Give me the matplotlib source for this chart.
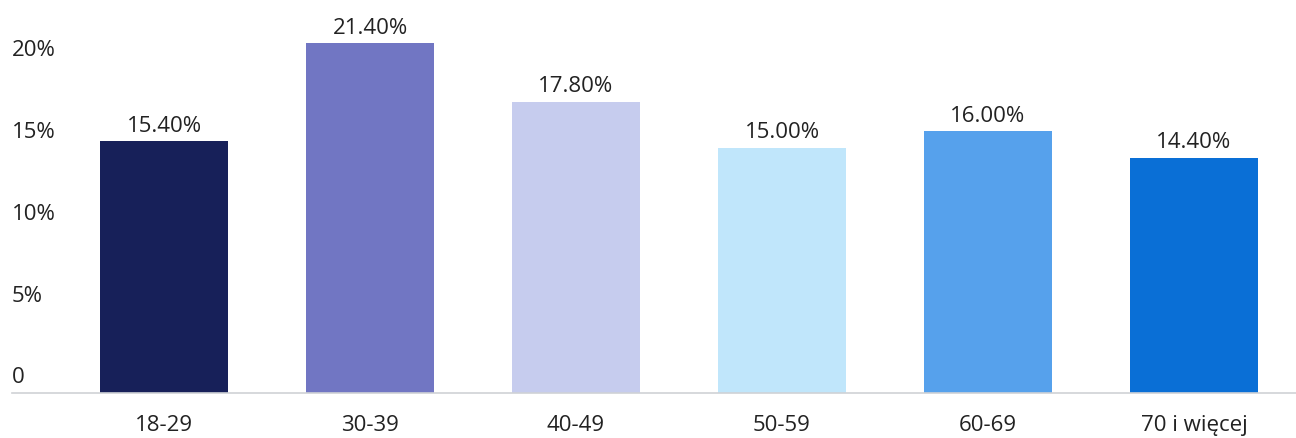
import matplotlib.pyplot as plt

# age groups and share of respondents (%)
categories = ['18-29', '30-39', '40-49', '50-59', '60-69', '70 i więcej']
values = [15.4, 21.4, 17.8, 15.0, 16.0, 14.4]
colors = ['#172059', '#7176c3', '#c6ccee', '#c0e6fb', '#56a1ec', '#0a6fd6']
y_ticks = [0, 5, 10, 15, 20]
y_tick_labels = ['0', '5%', '10%', '15%', '20%']

plt.rcParams['font.family'] = ['Open Sans', 'DejaVu Sans']
plt.rcParams['font.size'] = 16

fig = plt.figure(figsize=(12.96, 4.39), dpi=100)
ax = fig.add_axes([12 / 1296, 45 / 439, 1 - 12 / 1296, 394 / 439])

x = range(len(categories))
bars = ax.bar(x, values, width=0.62, color=colors)

for bar, v in zip(bars, values):
    ax.annotate(f'{v:.2f}%', (bar.get_x() + bar.get_width() / 2, v),
                xytext=(0, 4), textcoords='offset points',
                ha='center', va='bottom', color='#222222')

ax.set_xlim(-0.738, 5.495)
ax.set_ylim(0, 24.1)

ax.set_xticks(list(x))
ax.set_xticklabels(categories, color='#222222')
ax.tick_params(axis='x', length=0, pad=15)

# y labels sit above their value, left aligned
ax.set_yticks([])
for t, lab in zip(y_ticks, y_tick_labels):
    ax.annotate(lab, (0, t), xycoords=ax.get_yaxis_transform(),
                xytext=(0, 4), textcoords='offset points',
                ha='left', va='bottom', color='#222222')

for s in ['top', 'right', 'left']:
    ax.spines[s].set_visible(False)
ax.spines['bottom'].set_color('#cfd2d6')
ax.spines['bottom'].set_linewidth(1.2)

fig.savefig('out.png', dpi=100)
